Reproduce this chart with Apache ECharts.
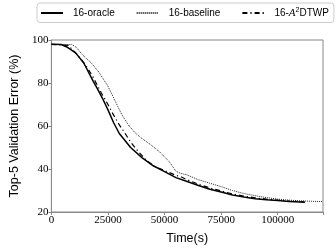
<!DOCTYPE html>
<html><head><meta charset="utf-8">
<script src="https://cdn.jsdelivr.net/npm/echarts@6/dist/echarts.min.js"></script>
<style>html,body{margin:0;padding:0;background:#fff}#c{width:335px;height:250px}</style>
</head><body><div id="c"></div>
<script>
const seriesNames = ['16-oracle', '16-baseline', '16-{i|A}{s|2}DTWP'];
const oracle = [[0,98],[4300,97.9],[7100,96.6],[10700,94],[14300,89.3],[18500,80.8],[20000,78],[22500,73],[25000,67.5],[27500,61.5],[30000,56.5],[35000,50],[40000,45.3],[45000,41.5],[50000,38.8],[55000,36],[60000,34.2],[65000,32.3],[70000,30.6],[75000,29.3],[80000,27.9],[85000,27],[90000,26.2],[95000,25.7],[100000,25.3],[105000,24.9],[110000,24.6],[112000,24.5]];
const baseline = [[0,98],[9000,97.9],[11000,96.6],[14000,92.8],[17500,89.5],[21000,85],[25000,78.5],[28000,72],[31000,65.5],[34000,60.5],[37000,56.8],[40000,54.2],[44000,51.2],[48000,47.8],[52000,43.5],[55000,39],[57000,38],[60000,37.2],[65000,35],[70000,33.4],[75000,31.8],[80000,30],[85000,28.6],[90000,27.6],[95000,26.7],[100000,26],[105000,25.5],[110000,25.2],[115000,25],[120000,24.8]];
const a2dtwp = [[0,98],[7500,97.5],[9300,95.5],[12000,92.5],[15000,88.5],[18000,83.5],[22000,75.5],[25000,70],[27000,66],[30000,60.5],[32000,57.5],[35000,52.5],[38500,48],[42000,44],[46000,41],[50000,39.3],[55000,37],[57000,36.5],[60000,35],[65000,32.9],[70000,31.2],[75000,29.8],[80000,28.4],[85000,27.4],[90000,26.6],[95000,26],[100000,25.5],[105000,25.1],[110000,24.8],[112000,24.7]];
const xTicks = [0, 25000, 50000, 75000, 100000];
const yTicks = [20, 40, 60, 80, 100];

const chart = echarts.init(document.getElementById('c'), null, {renderer:'canvas'});
const serif = 'Liberation Serif';
const sans = 'Liberation Sans';
chart.setOption({
  animation:false,
  grid:{left:43, right:12, top:40, bottom:37, show:true, borderColor:'#888', borderWidth:1},
  legend:{
    top:3, left:37, width:400,
    itemWidth:22, itemHeight:10, itemGap:21,
    borderColor:'#ccc', borderWidth:1, borderRadius:3, padding:[4,5,4,3],
    data: seriesNames,
    itemStyle:{opacity:0},
    textStyle:{fontFamily:sans, fontSize:10, color:'#000', padding:[0,0,0,5],
      rich:{i:{fontFamily:serif, fontStyle:'italic', fontSize:11}, s:{fontFamily:sans, fontSize:7, verticalAlign:'bottom', padding:[0,0,5,0]}}}
  },
  xAxis:{type:'value', min:0, max:120000, interval:25000,
    name:'Time(s)', nameLocation:'middle', nameGap:20,
    nameTextStyle:{fontFamily:sans, fontSize:12.5, color:'#000'},
    axisLine:{lineStyle:{color:'#888'}}, axisTick:{length:3, lineStyle:{color:'#888'}},
    axisLabel:{fontFamily:serif, fontSize:11, color:'#000', margin:3,
      formatter:v => xTicks.includes(v) ? String(v) : ''},
    splitLine:{show:false}},
  yAxis:{type:'value', min:20, max:100, interval:20,
    name:'Top-5 Validation Error (%)', nameLocation:'middle', nameGap:27,
    nameTextStyle:{fontFamily:sans, fontSize:12.5, color:'#000'},
    axisLine:{show:true, lineStyle:{color:'#888'}}, axisTick:{show:true, length:3, lineStyle:{color:'#888'}},
    axisLabel:{fontFamily:serif, fontSize:11, color:'#000', margin:3,
      formatter:v => yTicks.includes(v) ? String(v) : ''},
    splitLine:{show:false}},
  series:[
    {name:seriesNames[0], type:'line', data:oracle, symbol:'none', lineStyle:{color:'#000', width:1.5, type:'solid'}, itemStyle:{color:'#000'}},
    {name:seriesNames[1], type:'line', data:baseline, symbol:'none', lineStyle:{color:'#222', width:1, type:[1,1]}, itemStyle:{color:'#222'}},
    {name:seriesNames[2], type:'line', data:a2dtwp, symbol:'none', lineStyle:{color:'#000', width:1.2, type:[5,3,1.2,3]}, itemStyle:{color:'#000'}}
  ]
});
</script></body></html>
